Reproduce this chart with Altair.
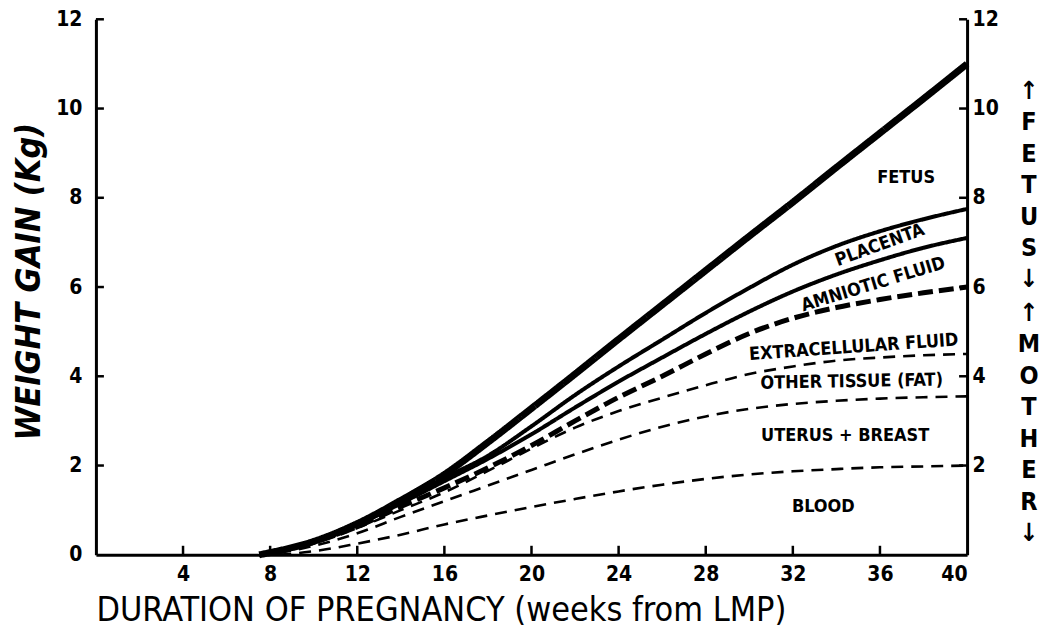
import altair as alt
import pandas as pd

# ---- data ----
weeks = [7.5, 8, 10, 12, 14, 16, 18, 20, 22, 24, 26, 28, 30, 32, 34, 36, 38, 40]
fetus_total = [0, 0.05, 0.3, 0.7, 1.22, 1.8, 2.52, 3.28, 4.05, 4.83, 5.6, 6.37, 7.14, 7.9, 8.68, 9.45, 10.22, 11.0]
placenta_top = [0, 0.05, 0.3, 0.68, 1.18, 1.72, 2.22, 2.88, 3.58, 4.22, 4.82, 5.42, 5.98, 6.5, 6.92, 7.25, 7.52, 7.75]
amniotic_top = [0, 0.05, 0.29, 0.67, 1.15, 1.65, 2.15, 2.7, 3.3, 3.88, 4.42, 4.95, 5.45, 5.9, 6.28, 6.6, 6.88, 7.1]
ecf_top = [0, 0.04, 0.28, 0.63, 1.08, 1.5, 1.95, 2.45, 3.0, 3.53, 4.0, 4.5, 4.96, 5.3, 5.54, 5.72, 5.87, 6.0]
fat_top = [0, 0.03, 0.26, 0.6, 1.0, 1.4, 1.88, 2.38, 2.85, 3.22, 3.52, 3.8, 4.05, 4.22, 4.35, 4.42, 4.47, 4.5]
uterus_top = [0, 0.02, 0.2, 0.48, 0.85, 1.2, 1.55, 1.9, 2.25, 2.58, 2.87, 3.1, 3.27, 3.38, 3.45, 3.5, 3.53, 3.55]
blood_top = [0, 0, 0.08, 0.25, 0.45, 0.68, 0.88, 1.07, 1.25, 1.42, 1.57, 1.7, 1.8, 1.87, 1.92, 1.96, 1.98, 2.0]

series_names = ["fetus", "placenta", "amniotic", "ecf", "fat", "uterus", "blood"]
series_values = [fetus_total, placenta_top, amniotic_top, ecf_top, fat_top, uterus_top, blood_top]
series_width = [7, 4, 4, 5, 2.6, 2.6, 2.6]
series_dash = [[1, 0], [1, 0], [1, 0], [15, 6], [12, 8], [12, 8], [12, 8]]

label_text = ["FETUS", "PLACENTA", "AMNIOTIC FLUID", "EXTRACELLULAR FLUID",
              "OTHER TISSUE  (FAT)", "UTERUS + BREAST", "BLOOD"]
label_week = [37.2, 36.0, 35.7, 34.8, 34.7, 34.4, 33.4]
label_kg = [8.44, 6.93, 6.05, 4.64, 3.87, 2.67, 1.07]
label_angle = [0, 340, 343, 356, 359, 0, 0]

x_ticks = [4, 8, 12, 16, 20, 24, 28, 32, 36]
x_labels = [4, 8, 12, 16, 20, 24, 28, 32, 36, 40]
y_left_labels = [0, 2, 4, 6, 8, 10, 12]
y_ticks = [2, 4, 6, 8, 10, 12]

side_text = ["↑\nF\nE\nT\nU\nS\n↓", "↑\nM\nO\nT\nH\nE\nR\n↓"]
side_kg = [10.4, 5.42]

W, H = 872, 536
FONT = "DejaVu Sans Condensed, Liberation Sans Narrow, DejaVu Sans"

rows = []
for name, vals in zip(series_names, series_values):
    for w, v in zip(weeks, vals):
        rows.append({"series": name, "week": w, "kg": v})
df = pd.DataFrame(rows)

xscale = alt.Scale(domain=[0, 40], nice=False, zero=True)
yscale = alt.Scale(domain=[0, 12], nice=False)

x_enc = alt.X("week:Q", scale=xscale, axis=alt.Axis(
    values=x_labels, ticks=False, grid=False, domainWidth=3, domainColor="black",
    labelFontSize=21, labelFontWeight="bold", labelFont=FONT, labelPadding=9,
    labelColor="black",
    title="DURATION OF PREGNANCY  (weeks from LMP)", titleFont=FONT,
    titleFontSize=34, titleFontWeight="normal", titleColor="black",
    titleAnchor="start", titleAlign="left", titleX=0, titleY=66,
    titleBaseline="alphabetic"))
y_enc = alt.Y("kg:Q", scale=yscale, axis=alt.Axis(
    values=y_left_labels, ticks=False, grid=False, domainWidth=3, domainColor="black",
    labelFontSize=21, labelFontWeight="bold", labelFont=FONT, labelPadding=14,
    labelColor="black",
    title="WEIGHT GAIN (Kg)", titleFont=FONT, titleFontSize=34,
    titleFontWeight="bold", titleFontStyle="italic", titleColor="black",
    titleAngle=270, titleX=-66, titleY=262, titleAlign="center",
    titleBaseline="middle"))

layers = []
for i, name in enumerate(series_names):
    layers.append(
        alt.Chart(df).transform_filter(alt.datum.series == name)
        .mark_line(interpolate="monotone", color="black",
                   strokeWidth=series_width[i], strokeDash=series_dash[i],
                   strokeCap="butt")
        .encode(x=x_enc if i == 0 else alt.X("week:Q", scale=xscale),
                y=y_enc if i == 0 else alt.Y("kg:Q", scale=yscale))
    )

lab_df = pd.DataFrame({"text": label_text, "week": label_week, "kg": label_kg,
                       "angle": label_angle})
labels = alt.Chart(lab_df).mark_text(
    font=FONT, fontSize=18, fontWeight="bold", color="black",
    align="center", baseline="middle"
).encode(x=alt.X("week:Q", scale=xscale), y=alt.Y("kg:Q", scale=yscale),
         text="text:N", angle=alt.Angle("angle:Q", scale=None))
layers.append(labels)

left_ticks = alt.Chart(pd.DataFrame({"kg": y_ticks})).mark_rule(
    color="black", strokeWidth=2.5).encode(
    y=alt.Y("kg:Q", scale=yscale), x=alt.value(0), x2=alt.value(8))
bottom_ticks = alt.Chart(pd.DataFrame({"week": x_ticks})).mark_rule(
    color="black", strokeWidth=2.5).encode(
    x=alt.X("week:Q", scale=xscale), y=alt.value(H - 9), y2=alt.value(H))
layers += [left_ticks, bottom_ticks]

side_df = pd.DataFrame({"text": side_text, "kg": side_kg})
side = alt.Chart(side_df).mark_text(
    font=FONT, fontSize=25, fontWeight="bold", color="black",
    align="center", baseline="middle", lineBreak="\n", lineHeight=31.5
).encode(y=alt.Y("kg:Q", scale=yscale), x=alt.value(W + 62), text="text:N")
layers.append(side)

inner = alt.layer(*layers)

right_ticks = alt.Chart(pd.DataFrame({"kg": y_ticks})).mark_rule(
    color="black", strokeWidth=2.5).encode(
    y=alt.Y("kg:Q", scale=yscale, axis=alt.Axis(
        orient="right", values=y_ticks, ticks=False, grid=False,
        domainWidth=3, domainColor="black", labelFontSize=21,
        labelFontWeight="bold", labelFont=FONT, labelPadding=5,
        labelColor="black", title=None)),
    x=alt.value(W - 8), x2=alt.value(W))

chart = alt.layer(inner, right_ticks).resolve_scale(y="independent").properties(
    width=W, height=H,
    autosize=alt.AutoSizeParams(type="none"),
    padding={"left": 88, "top": 11, "right": 75, "bottom": 78},
    background="white"
).configure_view(stroke=None)

chart.save("out.html", embed_options={"renderer": "svg", "actions": False})
